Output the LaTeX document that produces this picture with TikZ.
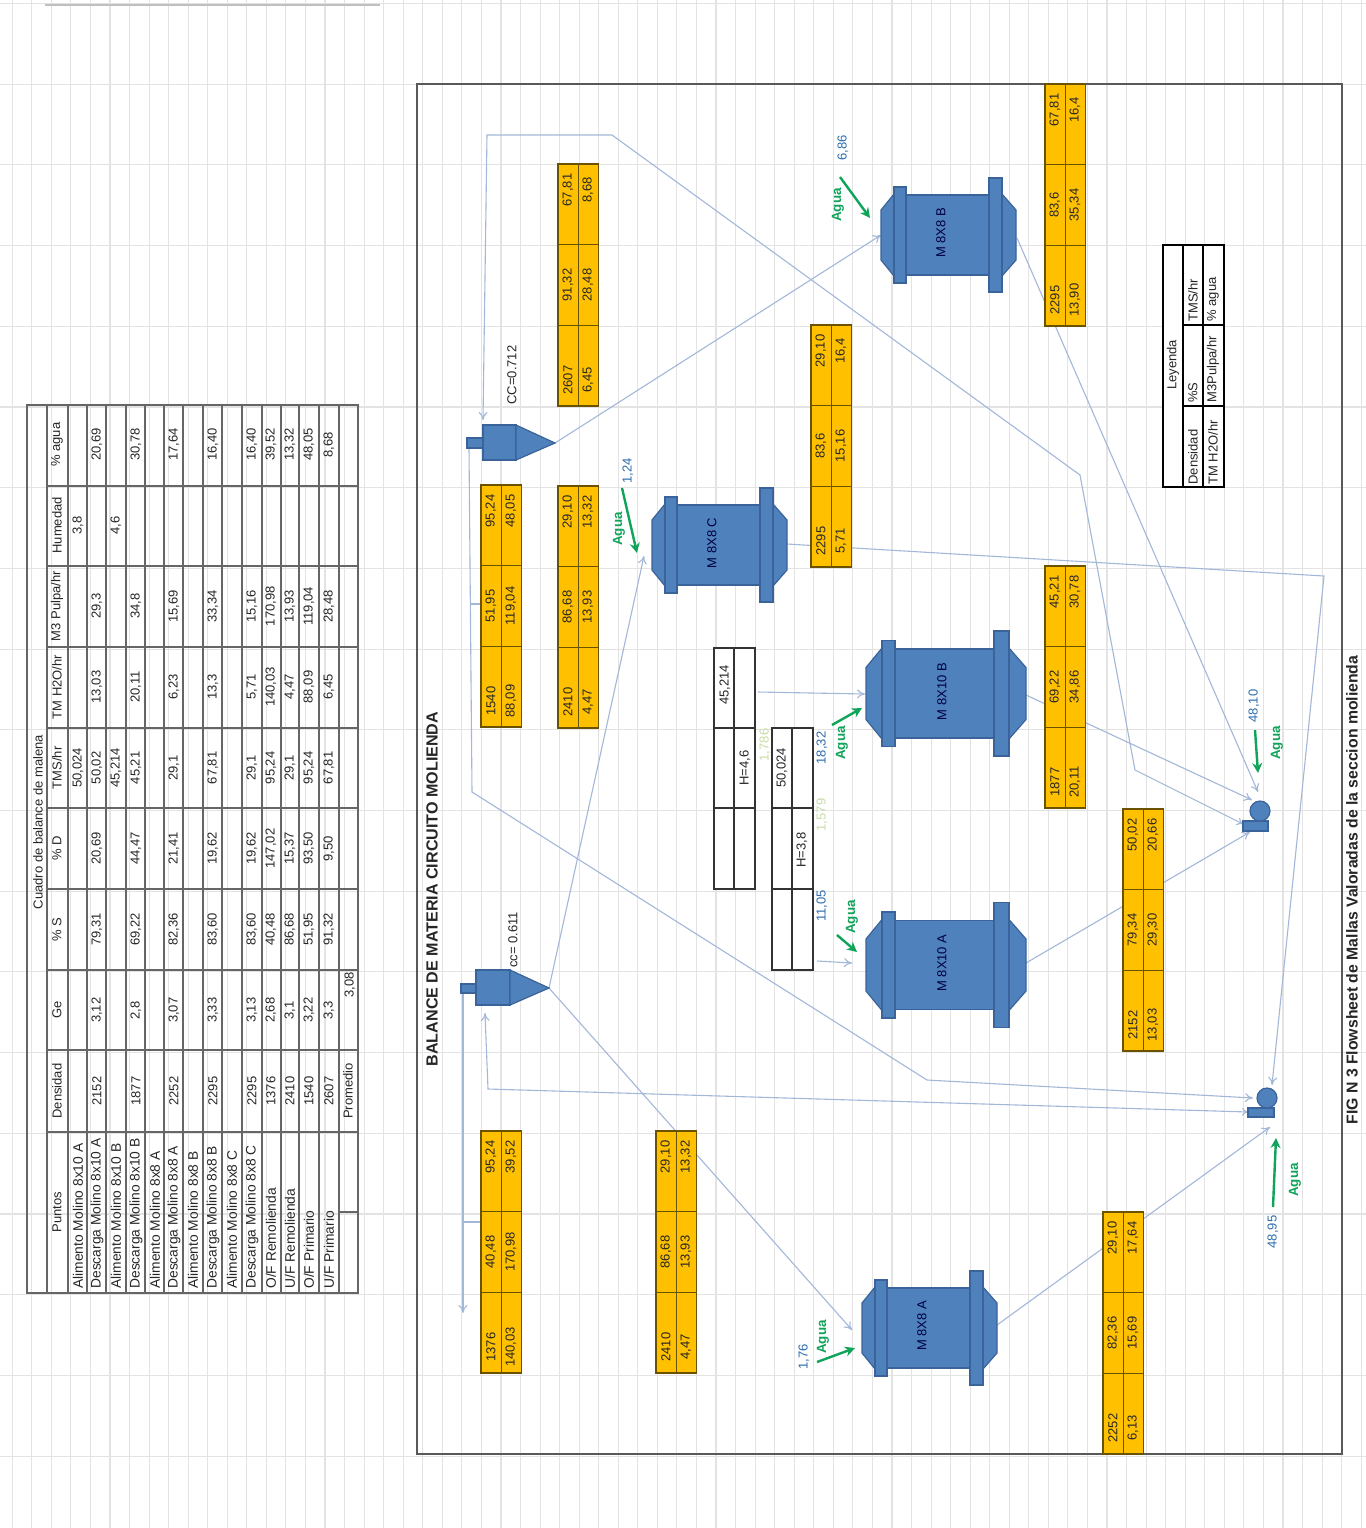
\documentclass[tikz,border=0pt]{standalone}
\usepackage{fontspec}
\setmainfont{Liberation Sans}
\usetikzlibrary{arrows.meta}
\tikzset{
  gridline/.style={draw=black!11,line width=0.55pt},
  flow/.style={draw=flowc,line width=0.55pt},
  tip/.style={-{To[length=4pt,width=4.5pt]}},
  tiptwo/.style={{To[length=3pt,width=4pt]}-{To[length=4pt,width=4.5pt]}},
  water/.style={draw=waterc,line width=1.2pt,-{Stealth[length=5pt,width=5pt]}},
  rtext/.style={rotate=90,font=\fontsize{6.5}{7}\selectfont,inner sep=0pt,text=black!85},
  tabline/.style={draw=black!60,line width=0.7pt},
  orange/.style={draw=orangeb,fill=orangef,line width=0.55pt},
  whitebox/.style={draw=black!80,fill=white,line width=0.55pt},
  metal/.style={draw=metalb,fill=metalf,line width=0.6pt},
  agua/.style={rtext,text=waterc,font=\fontsize{6.7}{7}\selectfont\bfseries},
  flowval/.style={rtext,text=valc},
  paleval/.style={rtext,text=palec},
}
\definecolor{flowc}{HTML}{A3B8D8}
\definecolor{waterc}{HTML}{10A35A}
\definecolor{orangef}{HTML}{FFC000}
\definecolor{orangeb}{HTML}{6B5200}
\definecolor{metalf}{HTML}{4F81BD}
\definecolor{metalb}{HTML}{3A639A}
\definecolor{valc}{HTML}{2E6DB0}
\definecolor{palec}{HTML}{C8DDA4}
% orange data table: name, x left, y top, then the cells column by column
\newcommand\otab[9]{%
  \draw[orange] (#2,#3) rectangle (#2+40.5,#3+242);
  \draw[orange,fill=none] (#2+20.2,#3) -- (#2+20.2,#3+242)
     (#2,#3+80.7) -- (#2+40.5,#3+80.7) (#2,#3+161.3) -- (#2+40.5,#3+161.3);
  \node[rtext] (#1a) at (#2+10,#3+216) {#4};
  \node[rtext] (#1b) at (#2+30,#3+216) {#5};
  \node[rtext] (#1c) at (#2+10,#3+121) {#6};
  \node[rtext] (#1d) at (#2+30,#3+121) {#7};
  \node[rtext] (#1e) at (#2+10,#3+26) {#8};
  \node[rtext] (#1f) at (#2+30,#3+26) {#9};
}
% mill: name, x left, y centre, label (geometry set by \millgeom)
\newcommand\millgeom[9]{\def\ma{#1}\def\mb{#2}\def\mc{#3}\def\md{#4}\def\me{#5}\def\mh{#6}\def\mi{#7}\def\mj{#8}\def\mt{#9}}
\newcommand\mill[4]{%
  \draw[metal] (#2,#3-\mt) -- (#2+\ma,#3-\mh-1) -- (#2+\ma,#3+\mh+1) -- (#2,#3+\mt) -- cycle;
  \draw[metal] (#2+\me,#3-\mh-1) -- (#2+\me+\ma+1,#3-\mt) -- (#2+\me+\ma+1,#3+\mt) -- (#2+\me,#3+\mh+1) -- cycle;
  \draw[metal] (#2+\ma,#3-\mh) rectangle (#2+\md,#3+\mh);
  \draw[metal] (#2+\ma,#3-\mi) rectangle (#2+\mb,#3+\mi);
  \draw[metal] (#2+\md,#3-\mj) rectangle (#2+\me,#3+\mj);
  \node[rtext,text=black!75!blue] (#1) at (#2+\mc,#3-2) {#4};
}
\newcommand\datarow[2]{%
  \foreach \v [count=\c] in {#2}{\node[rtext] (t#1-\c) at (#1,{1091-(\c-1)*80.8}) {\v};}%
}
\begin{document}
\begin{tikzpicture}[x=0.5pt,y=-0.5pt]
\useasboundingbox (0,0) rectangle (1366,1528);
\fill[white] (0,0) rectangle (1366,1528);
% background sheet grid
\foreach \i in {-23,...,47} \draw[gridline] ({442.3+19.55*\i},0) -- ({442.3+19.55*\i},1528);
\foreach \i in {0,...,18} \draw[gridline] (0,{3.5+80.7*\i}) -- (1366,{3.5+80.7*\i});
\draw[draw=black!25,line width=0.6pt] (45,5) -- (380,5);

% ===== summary table =====
\draw[tabline] (27,405) rectangle (358,1293);
\draw[tabline] (47,405) -- (47,1293);
\foreach \xx in {68,87,106,126,145,164,183,203,222,242,262,281,299,319,339} \draw[tabline] (\xx,405) -- (\xx,1293);
\foreach \yy in {486,566,647,728,808,889,970,1050,1132} \draw[tabline] (47,\yy) -- (358,\yy);
\draw[tabline] (340,1212) -- (358,1212);
\node[rtext] (ttitle) at (38,822) {Cuadro de balance de malena};
\node[rtext] (hp) at (57,1212) {Puntos};
\datarow{57}{Densidad,Ge,\% S,\% D,TMS/hr,TM H2O/hr,M3 Pulpa/hr,Humedad,\% agua}
\newcommand\ptxt[3]{\node[rtext,anchor=west,font=\fontsize{6.9}{7}\selectfont] (pt#1) at (#1,1289) {#2 #3};}
\ptxt{78}{Alimento Molino}{8x10 A}
\ptxt{97}{Descarga Molino}{8x10 A}
\ptxt{116}{Alimento Molino}{8x10 B}
\ptxt{136}{Descarga Molino}{8x10 B}
\ptxt{155}{Alimento Molino}{8x8 A}
\ptxt{174}{Descarga Molino}{8x8 A}
\ptxt{193}{Alimento Molino}{8x8 B}
\ptxt{213}{Descarga Molino}{8x8 B}
\ptxt{232}{Alimento Molino}{8x8 C}
\ptxt{252}{Descarga Molino}{8x8 C}
\ptxt{271}{O/F}{Remolienda}
\ptxt{290}{U/F}{Remolienda}
\ptxt{309}{O/F}{Primario}
\ptxt{329}{U/F}{Primario}
\datarow{78}{,,,,{50,024},,,{3,8},}
\datarow{97}{2152,{3,12},{79,31},{20,69},{50,02},{13,03},{29,3},,{20,69}}
\datarow{116}{,,,,{45,214},,,{4,6},}
\datarow{136}{1877,{2,8},{69,22},{44,47},{45,21},{20,11},{34,8},,{30,78}}
\datarow{174}{2252,{3,07},{82,36},{21,41},{29,1},{6,23},{15,69},,{17,64}}
\datarow{213}{2295,{3,33},{83,60},{19,62},{67,81},{13,3},{33,34},,{16,40}}
\datarow{252}{2295,{3,13},{83,60},{19,62},{29,1},{5,71},{15,16},,{16,40}}
\datarow{271}{1376,{2,68},{40,48},{147,02},{95,24},{140,03},{170,98},,{39,52}}
\datarow{290}{2410,{3,1},{86,68},{15,37},{29,1},{4,47},{13,93},,{13,32}}
\datarow{309}{1540,{3,22},{51,95},{93,50},{95,24},{88,09},{119,04},,{48,05}}
\datarow{329}{2607,{3,3},{91,32},{9,50},{67,81},{6,45},{28,48},,{8,68}}
\node[rtext] (prom) at (348,1091) {Promedio};
\node[rtext] (prom2) at (350,985) {3,08};

% ===== frame and headings =====
\draw[draw=black!65,line width=1.1pt] (417,84) rectangle (1342,1454);
\node[rotate=90,inner sep=0pt,font=\fontsize{8.05}{9}\selectfont\bfseries,text=black!85] (title) at (432,889) {BALANCE DE MATERIA CIRCUITO MOLIENDA};
\node[rotate=90,inner sep=0pt,font=\fontsize{7.9}{9}\selectfont\bfseries,text=black!85] (caption) at (1352,890) {FIG N 3 Flowsheet de Mallas Valoradas de la seccion molienda};

% ===== connector end points =====
\coordinate (cycRapex) at (555,443);
\coordinate (cycLapex) at (549,988);
\coordinate (millBin) at (881,235);
\coordinate (millBout) at (1017,238);
\coordinate (millCin) at (644,556);
\coordinate (millCout) at (787,544);
\coordinate (mill10Bin) at (865,694);
\coordinate (mill10Bout) at (1026,695);
\coordinate (mill10Ain) at (852,963);
\coordinate (mill10Aout) at (1026,963);
\coordinate (millAin) at (852,1330);
\coordinate (millAout) at (997,1325);
\coordinate (p1a) at (1258,792);
\coordinate (p1b) at (1252,800);
\coordinate (p1c) at (1243,824);
\coordinate (p1d) at (1250,832);
\coordinate (p2a) at (1272,1085);
\coordinate (p2b) at (1253,1098);
\coordinate (p2c) at (1248,1112);
\coordinate (p2d) at (1270,1127);
\coordinate (cycRin) at (483,420);
\coordinate (cycLin) at (485,1013);
\coordinate (cycRof) at (469,448);
\coordinate (cycLof) at (463,993);
\coordinate (cycLofEnd) at (463,1313);
\coordinate (k1) at (487,135);
\coordinate (k2) at (612,135);
\coordinate (k3) at (1080,475);
\coordinate (k4) at (1135,770);
\coordinate (k5) at (472,792);
\coordinate (k6) at (927,1080);
\coordinate (k7) at (1324,576);
\coordinate (k8) at (488,1089);
\coordinate (w1) at (758,692);
\coordinate (w2) at (817,961);
\coordinate (tk1) at (471,604);
\coordinate (tk1b) at (481,604);
\coordinate (tk2) at (463,1222);
\coordinate (tk2b) at (481,1222);

% ===== flow lines =====
\draw[flow,tip] (cycRapex) -- (millBin);
\draw[flow,tiptwo] (p1c) -- (k4) -- (k3) -- (k2) -- (k1) -- (cycRin);
\draw[flow,tip] (millBout) -- (p1a);
\draw[flow,tip] (mill10Bout) -- (p1b);
\draw[flow,tip] (mill10Aout) -- (p1d);
\draw[flow,tip] (millCout) -- (k7) -- (p2a);
\draw[flow,tip] (cycRof) -- (k5) -- (k6) -- (p2b);
\draw[flow,tip] (cycLof) -- (cycLofEnd);
\draw[flow,tiptwo] (p2c) -- (k8) -- (cycLin);
\draw[flow,tip] (cycLapex) -- (millCin);
\draw[flow,tip] (cycLapex) -- (millAin);
\draw[flow,tip] (millAout) -- (p2d);
\draw[flow,tip] (w1) -- (mill10Bin);
\draw[flow,tip] (w2) -- (mill10Ain);
\draw[flow] (tk1) -- (tk1b);
\draw[flow] (tk2) -- (tk2b);

% ===== orange tables =====
\otab{oa}{481}{485}{1540}{88,09}{51,95}{119,04}{95,24}{48,05}
\otab{ob}{558}{486}{2410}{4,47}{86,68}{13,93}{29,10}{13,32}
\otab{oc}{558}{164}{2607}{6,45}{91,32}{28,48}{67,81}{8,68}
\otab{od}{811}{325}{2295}{5,71}{83,6}{15,16}{29,10}{16,4}
\otab{oe}{1045}{84}{2295}{13,90}{83,6}{35,34}{67,81}{16,4}
\otab{of}{1045}{566}{1877}{20,11}{69,22}{34,86}{45,21}{30,78}
\otab{og}{1123}{809}{2152}{13,03}{79,34}{29,30}{50,02}{20,66}
\otab{oh}{1103}{1212}{2252}{6,13}{82,36}{15,69}{29,10}{17,64}
\otab{oi}{481}{1131}{1376}{140,03}{40,48}{170,98}{95,24}{39,52}
\otab{oj}{656}{1131}{2410}{4,47}{86,68}{13,93}{29,10}{13,32}

% ===== white tables =====
\draw[whitebox] (714,648) rectangle (755,889);
\draw[whitebox] (734,648) -- (734,889) (714,728) -- (755,728) (714,808) -- (755,808);
\node[rtext] (wa) at (725,685) {45,214};
\node[rtext] (wb) at (745,768) {H=4,6};
\draw[whitebox] (772,728) rectangle (813,970);
\draw[whitebox] (792,728) -- (792,970) (772,808) -- (813,808) (772,889) -- (813,889);
\node[rtext] (wc) at (782,768) {50,024};
\node[rtext] (wd) at (802,850) {H=3,8};
\node[paleval] (pa) at (765,745) {1,786};
\node[paleval] (pb) at (822,815) {1,579};

% ===== legend =====
\draw[whitebox,draw=black,line width=0.7pt] (1163,245) rectangle (1224,487);
\draw[draw=black,line width=0.6pt] (1183,245) -- (1183,487) (1203,245) -- (1203,487) (1183,325) -- (1224,325) (1183,406) -- (1224,406);
\node[rtext] (lg) at (1173,365) {Leyenda};
\node[rtext,anchor=west] (lg1) at (1193,485) {Densidad};
\node[rtext,anchor=west] (lg2) at (1193,403) {\%S};
\node[rtext,anchor=west] (lg3) at (1193,322) {TMS/hr};
\node[rtext,anchor=west] (lg4) at (1213,485) {TM H2O/hr};
\node[rtext,anchor=west] (lg5) at (1213,403) {M3Pulpa/hr};
\node[rtext,anchor=west] (lg6) at (1213,322) {\% agua};

% ===== mills =====
\millgeom{13}{25}{60}{108}{121}{40}{48}{57}{25}
\mill{m8A}{862}{1328}{M 8X8 A}
\mill{m8B}{881}{235}{M 8X8 B}
\mill{m8C}{652}{545}{M 8X8 C}
\millgeom{16}{29}{76}{128}{143}{44.5}{53}{62.5}{26}
\mill{m10A}{866}{965}{M 8X10 A}
\mill{m10B}{866}{693.5}{M 8X10 B}

% ===== cyclones =====
\draw[metal] (467,438) rectangle (483,448);
\draw[metal] (483,425) rectangle (516,460);
\draw[metal] (516,425) -- (cycRapex) -- (516,460) -- cycle;
\draw[metal] (461,984) rectangle (476,993);
\draw[metal] (476,970) rectangle (510,1005);
\draw[metal] (510,970) -- (cycLapex) -- (510,1005) -- cycle;
\node[rtext] (ccr) at (512,375) {CC=0.712};
\node[rtext] (ccl) at (513,940) {cc= 0.611};

% ===== pumps =====
\draw[metal] (1243,821) rectangle (1268,831);
\fill[metal] (1260,811) circle[radius=10];
\draw[metal] (1248,1108) rectangle (1274,1117);
\fill[metal] (1267,1098) circle[radius=10];

% ===== water additions =====
\coordinate (a1) at (840,177); \coordinate (a1e) at (870,218);
\coordinate (a2) at (622,488); \coordinate (a2e) at (637,553);
\coordinate (a3) at (832,725); \coordinate (a3e) at (862,708);
\coordinate (a4) at (837,935); \coordinate (a4e) at (857,952);
\coordinate (a5) at (817,1362); \coordinate (a5e) at (855,1348);
\coordinate (a6) at (1255,730); \coordinate (a6e) at (1258,773);
\coordinate (a7) at (1273,1207); \coordinate (a7e) at (1276,1138);
\foreach \s in {a1,a2,a3,a4,a5,a6,a7} \draw[water] (\s) -- (\s e);
\node[agua] (ag1) at (838,205) {Agua};
\node[agua] (ag2) at (619,529) {Agua};
\node[agua] (ag3) at (842,743) {Agua};
\node[agua] (ag4) at (852,917) {Agua};
\node[agua] (ag5) at (823,1337) {Agua};
\node[agua] (ag6) at (1277,743) {Agua};
\node[agua] (ag7) at (1295,1180) {Agua};
\node[flowval] (v1) at (843,148) {6,86};
\node[flowval] (v2) at (628,471) {1,24};
\node[flowval] (v3) at (822,748) {18,32};
\node[flowval] (v4) at (822,906) {11,05};
\node[flowval] (v5) at (804,1357) {1,76};
\node[flowval] (v6) at (1254,706) {48,10};
\node[flowval] (v7) at (1273,1232) {48,95};
\end{tikzpicture}
\end{document}
